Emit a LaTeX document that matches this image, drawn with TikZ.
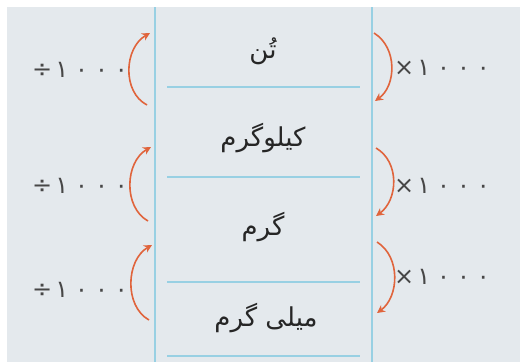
\documentclass[tikz,border=0pt]{standalone}
\usepackage{fontspec}
\usetikzlibrary{arrows.meta}
\TeXXeTstate=1
\newfontfamily\arabicfont[Script=Arabic]{DejaVu Sans}
\newfontfamily\digfont{DejaVu Sans}
\definecolor{bgc}{HTML}{E4E9ED}
\definecolor{linec}{HTML}{98D0E3}
\definecolor{arrc}{HTML}{E0643C}
\definecolor{txtc}{HTML}{262626}
\tikzset{
  word/.style={text=txtc,font=\arabicfont\fontsize{26}{30}\selectfont,inner sep=0pt},
  lab/.style={text=txtc!85,font=\digfont\fontsize{24}{28}\selectfont,inner sep=0pt},
  vline/.style={draw=linec,line width=2.8pt},
  hline/.style={draw=linec,line width=2.4pt},
  conv/.style={draw=arrc,line width=1.6pt,-{Stealth[length=8pt,width=8pt]}},
}
\newcommand{\digs}{۱\hspace{7pt}۰\hspace{7pt}۰\hspace{7pt}۰}
\begin{document}
\begin{tikzpicture}[x=1pt,y=-1pt]
\useasboundingbox (0,0) rectangle (520,362);
\fill[white] (0,0) rectangle (520,362);
\fill[bgc] (7,7) rectangle (520,362);
% vertical lines
\draw[vline] (155,7) -- (155,362);
\draw[vline] (372,7) -- (372,362);
% separators
\draw[hline] (167,87) -- (360,87);
\draw[hline] (167,177) -- (360,177);
\draw[hline] (167,282) -- (360,282);
\draw[hline] (167,356) -- (360,356);
% words
\node[word] (ton) at (263,51) {\beginR تُن\endR};
\node[word] (kg) at (263,138) {\beginR کیلوگرم\endR};
\node[word] (g) at (263,227) {\beginR گرم\endR};
\node[word] (mg) at (266,318) {\beginR میلی گرم\endR};
% left labels
\node[lab] (d1) at (80,70) {÷\hspace{3pt}\digs};
\node[lab] (d2) at (80,186) {÷\hspace{3pt}\digs};
\node[lab] (d3) at (80,290) {÷\hspace{3pt}\digs};
% right labels
\node[lab] (m1) at (442,68) {×\hspace{3pt}\digs};
\node[lab] (m2) at (442,186) {×\hspace{3pt}\digs};
\node[lab] (m3) at (442,277) {×\hspace{3pt}\digs};
% arrow end points
\coordinate (la1) at (147,105); \coordinate (lb1) at (150,33);
\coordinate (la2) at (148,221); \coordinate (lb2) at (151,147);
\coordinate (la3) at (149,320); \coordinate (lb3) at (152,245);
\coordinate (ra1) at (374,33); \coordinate (rb1) at (375,101);
\coordinate (ra2) at (376,148); \coordinate (rb2) at (376,216);
\coordinate (ra3) at (377,242); \coordinate (rb3) at (377,313);
% arrows left (upward)
\draw[conv] (la1) .. controls (122,92) and (124,48) .. (lb1);
\draw[conv] (la2) .. controls (123,207) and (125,162) .. (lb2);
\draw[conv] (la3) .. controls (124,306) and (126,260) .. (lb3);
% arrows right (downward)
\draw[conv] (ra1) .. controls (398,48) and (396,86) .. (rb1);
\draw[conv] (ra2) .. controls (400,162) and (398,200) .. (rb2);
\draw[conv] (ra3) .. controls (401,257) and (399,297) .. (rb3);
\end{tikzpicture}
\end{document}
